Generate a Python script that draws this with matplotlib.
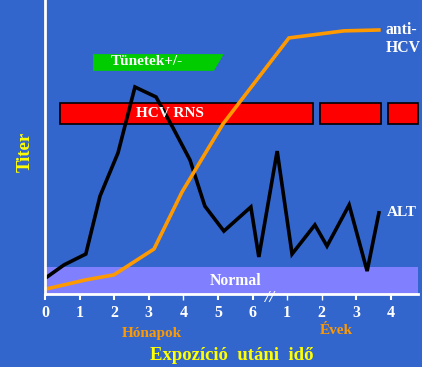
import matplotlib
matplotlib.use('Agg')
import matplotlib.pyplot as plt
from matplotlib.patches import Rectangle, Polygon

# ---- data (x in axis-tick units, y in arbitrary titer units 0-100) ----
alt_x = [0.06, 0.55, 1.18, 1.59, 2.11, 2.60, 3.21, 3.70, 4.19, 4.62, 5.17, 5.95,
         6.18, 6.71, 7.14, 7.80, 8.15, 8.79, 9.31, 9.65]
alt_y = [5.8, 9.9, 13.6, 33.3, 48.0, 70.4, 67.0, 56.5, 45.6, 29.9, 21.4, 29.6,
         12.6, 48.6, 13.6, 23.5, 16.3, 30.3, 7.8, 27.6]
anti_x = [0.03, 1.18, 1.99, 3.15, 3.96, 5.14, 7.05, 8.64, 9.65]
anti_y = [1.7, 4.8, 6.5, 15.3, 34.7, 57.8, 87.1, 89.5, 89.8]
tick_pos = list(range(11))
tick_labels = ['0', '1', '2', '3', '4', '5', '6', '1', '2', '3', '4']
rns_segments = [(0.43, 7.75), (7.95, 9.71), (9.91, 10.78)]
rns_band = (57.8, 65.0)
symptom_x = (1.39, 5.17, 4.88)
symptom_band = (75.9, 81.6)
normal_top = 9.2
x_max = 10.78

BG = '#3366CC'
WHITE = 'white'
ORANGE = '#FF9900'
YELLOW = '#FFFF00'
SERIF = 'Liberation Serif'

fig = plt.figure(figsize=(4.22, 3.67), dpi=100, facecolor=BG)
ax = fig.add_axes([45/422, 73/367, 373/422, 294/367])
ax.set_facecolor(BG)
ax.set_xlim(0, x_max)
ax.set_ylim(0, 100)

for s in ['top', 'right']:
    ax.spines[s].set_visible(False)
for s in ['left', 'bottom']:
    ax.spines[s].set_color(WHITE)
    ax.spines[s].set_linewidth(2)
    ax.spines[s].set_zorder(6)

ax.set_yticks([])
ax.set_xticks(tick_pos)
ax.set_xticklabels(tick_labels, fontfamily=SERIF, fontweight='bold',
                   fontsize=11.5, color=WHITE)
ax.tick_params(axis='x', colors=WHITE, length=4, width=1.5, pad=4)
faint = {4, 7, 8}
for i, t in enumerate(ax.xaxis.get_major_ticks()):
    if i in faint:
        t.tick1line.set_color('#8fa3e0')
        t.tick1line.set_markeredgewidth(1)
for lbl in ax.get_xticklabels():
    lbl.set_color(WHITE)

# normal band
ax.add_patch(Rectangle((0, 0), x_max, normal_top, facecolor='#8080FF',
                       edgecolor='none', zorder=1, clip_on=False))
ax.text(5.52, normal_top / 2 - 0.3, 'Normal', ha='center', va='center', color=WHITE,
        fontfamily=SERIF, fontweight='bold', fontsize=11.3, zorder=7)

# HCV RNS bars
for a, b in rns_segments:
    ax.add_patch(Rectangle((a, rns_band[0]), b - a, rns_band[1] - rns_band[0],
                           facecolor='#FF0000', edgecolor='black', linewidth=1.2,
                           zorder=2, clip_on=False))
ax.text(3.6, (rns_band[0] + rns_band[1]) / 2, 'HCV RNS', ha='center', va='center',
        color=WHITE, fontfamily=SERIF, fontweight='bold', fontsize=11, zorder=7)

# symptoms
ax.add_patch(Polygon([(symptom_x[0], symptom_band[0]), (symptom_x[0], symptom_band[1]),
                      (symptom_x[1], symptom_band[1]), (symptom_x[2], symptom_band[0])],
                     closed=True, facecolor='#00CC00', edgecolor='none', zorder=2))
ax.text(2.95, (symptom_band[0] + symptom_band[1]) / 2 + 0.3, 'Tünetek+/-',
        ha='center', va='center', color=WHITE, fontfamily=SERIF,
        fontweight='bold', fontsize=11, zorder=7)

# lines
ax.plot(alt_x, alt_y, color='black', linewidth=2.6, zorder=4,
        solid_joinstyle='miter', clip_on=False)
ax.plot(anti_x, anti_y, color=ORANGE, linewidth=2.6, zorder=5, clip_on=False)

# line labels
ax.text(9.84, 86.7, 'anti-\nHCV', ha='left', va='center', color=WHITE,
        fontfamily=SERIF, fontweight='bold', fontsize=11.3, linespacing=1.12,
        clip_on=False, zorder=7)
ax.text(9.87, 27.6, 'ALT', ha='left', va='center', color=WHITE,
        fontfamily=SERIF, fontweight='bold', fontsize=11, clip_on=False, zorder=7)

# axis break mark
ax.text(6.5, -1.2, '//', ha='center', va='center', color=WHITE,
        fontfamily=SERIF, fontweight='bold', fontstyle='italic', fontsize=12,
        clip_on=False, zorder=8)

# axis captions
fig.text(152/422, 1 - 334/367, 'Hónapok', ha='center', va='center', color=ORANGE,
         fontfamily=SERIF, fontweight='bold', fontsize=11)
fig.text(336/422, 1 - 331/367, 'Évek', ha='center', va='center', color=ORANGE,
         fontfamily=SERIF, fontweight='bold', fontsize=11)
fig.text(232/422, 1 - 356/367, 'Expozíció  utáni  idő', ha='center', va='center',
         color=YELLOW, fontfamily=SERIF, fontweight='bold', fontsize=13.5)
fig.text(25/422, 1 - 152/367, 'Titer', ha='center', va='center', color=YELLOW,
         rotation=90, fontfamily=SERIF, fontweight='bold', fontsize=13.5)

fig.savefig('out.png', dpi=100, facecolor=BG)
